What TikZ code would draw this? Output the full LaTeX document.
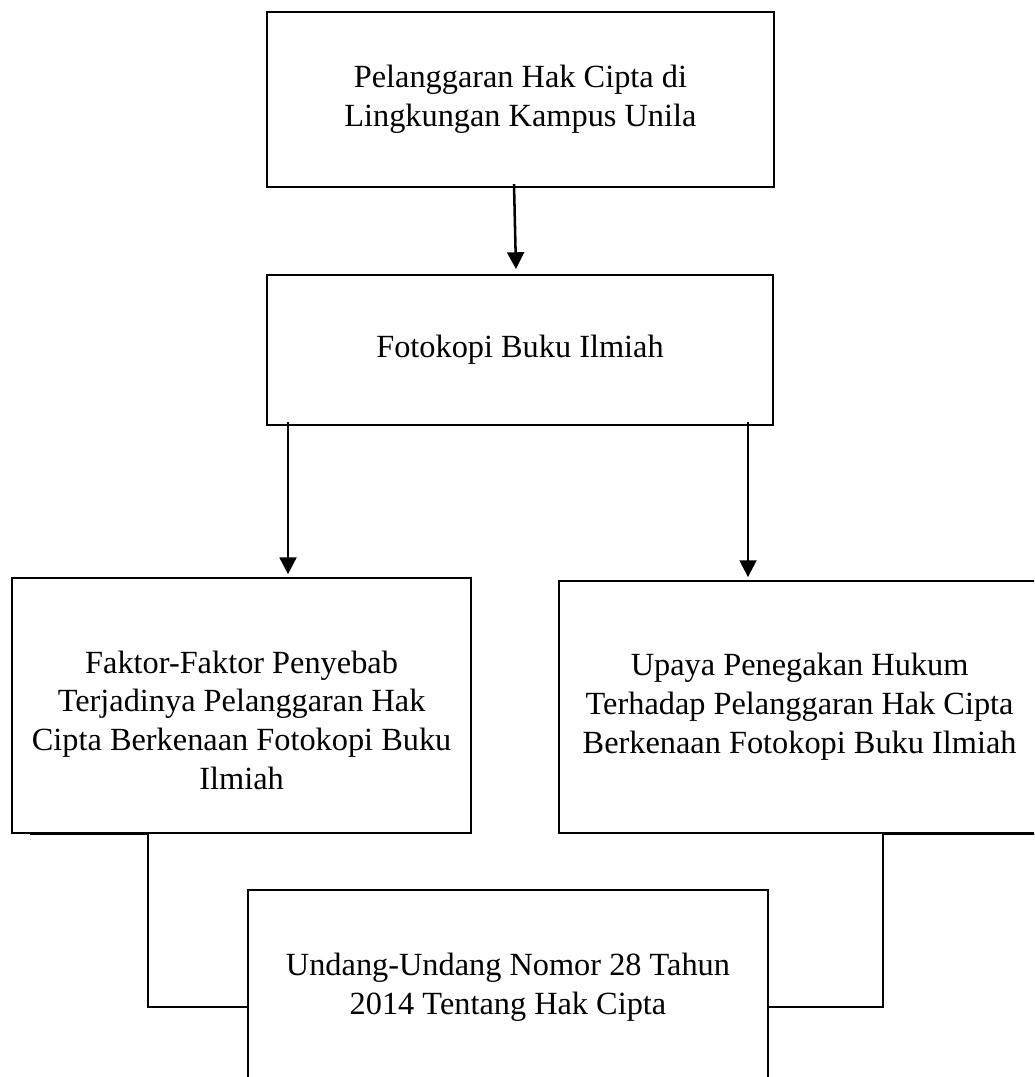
\documentclass[tikz,border=0pt]{standalone}
\usepackage{fontspec}
\setmainfont{Liberation Serif}
\usetikzlibrary{arrows.meta}

\begin{document}
\begin{tikzpicture}[main/.style={draw, line width=1.3pt, align=center, inner sep=0pt, font=\fontsize{23}{27.7}\selectfont},
    arr/.style={-{Triangle[width=0.42cm, length=0.42cm]}, line width=1.8pt},
    conn/.style={line width=1.6pt}]
    \useasboundingbox (0,0) rectangle (25.85,-26.925);
    \clip (0,0) rectangle (25.85,-26.925);

    \node[main, minimum width=12.675cm, minimum height=4.375cm] (langgar) at (13.01,-2.49) {Pelanggaran Hak Cipta di\\Lingkungan Kampus Unila};
    \node[main, minimum width=12.65cm, minimum height=3.75cm] (foto) at (13.0,-8.75) {Fotokopi Buku Ilmiah};
    \node[main, minimum width=11.475cm, minimum height=6.375cm] (faktor) at (6.04,-17.64) {\rule{0pt}{1.3cm}Faktor-Faktor Penyebab\\Terjadinya Pelanggaran Hak\\Cipta Berkenaan Fotokopi Buku\\Ilmiah};
    \node[main, minimum width=12.025cm, minimum height=6.3cm] (upaya) at (19.99,-17.675) {Upaya Penegakan Hukum\\Terhadap Pelanggaran Hak Cipta\\Berkenaan Fotokopi Buku Ilmiah};
    \node[main, minimum width=13.0cm, minimum height=4.875cm] (uu) at (12.7,-24.69) {Undang-Undang Nomor 28 Tahun\\2014 Tentang Hak Cipta};

    % arrows
    \draw[arr] ([xshift=-0.16cm, yshift=0.1cm]langgar.south) -- ([xshift=-0.1cm, yshift=0.125cm]foto.north);
    \coordinate (kiri) at ([xshift=-5.8cm, yshift=0.1cm]foto.south);
    \coordinate (kanan) at ([xshift=5.7cm, yshift=0.1cm]foto.south);
    \draw[arr] (kiri) -- ([yshift=0.075cm]kiri |- faktor.north);
    \draw[arr] (kanan) -- ([yshift=0.075cm]kanan |- upaya.north);

    % connectors to the law
    \coordinate (lk) at ([xshift=3.425cm]faktor.south west);
    \coordinate (rk) at ([xshift=8.125cm]upaya.south west);
    \draw[conn] ([xshift=0.475cm]faktor.south west) -- (lk) |- ([yshift=-0.4875cm]uu.west);
    \draw[conn] (upaya.south east) -- (rk) |- ([yshift=-0.4875cm]uu.east);
\end{tikzpicture}
\end{document}
